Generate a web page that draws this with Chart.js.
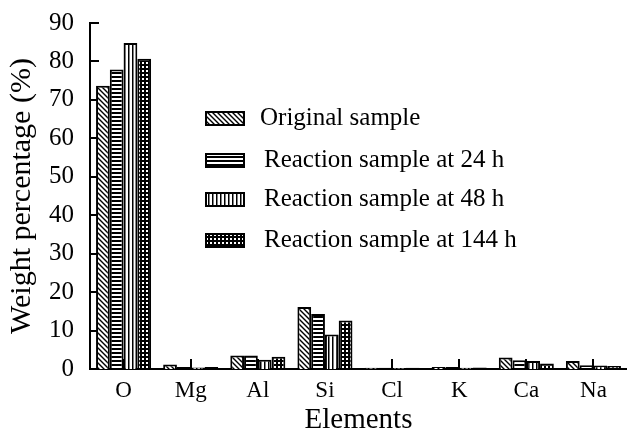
<!DOCTYPE html>
<html>
<head>
<meta charset="utf-8">
<script src="https://cdn.jsdelivr.net/npm/chart.js@4"></script>
<style>
  html, body { margin: 0; padding: 0; background: #fff; }
  #wrap { width: 627px; height: 432px; position: relative; }
</style>
</head>
<body>
<div id="wrap"><canvas id="chart" width="627" height="432"></canvas></div>
<script>
const elements = ['O', 'Mg', 'Al', 'Si', 'Cl', 'K', 'Ca', 'Na'];
const seriesNames = ['Original sample', 'Reaction sample at 24 h', 'Reaction sample at 48 h', 'Reaction sample at 144 h'];
const original = [73.7, 1.2, 3.5, 16.1, 0.3, 0.5, 3.0, 2.1];
const at24h = [77.9, 0.5, 3.5, 14.3, 0.3, 0.5, 2.3, 1.0];
const at48h = [84.8, 0.4, 2.4, 9.0, 0.2, 0.3, 2.1, 0.9];
const at144h = [80.7, 0.5, 3.2, 12.6, 0.3, 0.4, 1.4, 0.8];
const yTicks = [0, 10, 20, 30, 40, 50, 60, 70, 80, 90];

const FONT = "'Liberation Serif', 'Times New Roman', serif";

// hatch fills, drawn on small tiles
function makePattern(kind) {
  const c = document.createElement('canvas');
  const s = kind === 'diag' ? 5 : 4;
  c.width = s; c.height = s;
  const g = c.getContext('2d');
  g.fillStyle = '#fff';
  g.fillRect(0, 0, s, s);
  g.strokeStyle = '#000';
  g.fillStyle = '#000';
  if (kind === 'diag') {
    g.lineWidth = 1.4;
    g.beginPath();
    g.moveTo(-1, -1); g.lineTo(s + 1, s + 1);
    g.moveTo(-1, s - 1); g.lineTo(1, s + 1);
    g.moveTo(s - 1, -1); g.lineTo(s + 1, 1);
    g.stroke();
  } else if (kind === 'horiz') {
    g.fillRect(0, 0, s, 2);
  } else if (kind === 'vert') {
    g.fillRect(0, 0, 1.5, s);
  } else {
    g.fillRect(0, 0, s, 2);
    g.fillRect(0, 0, 2, s);
  }
  return document.getElementById('chart').getContext('2d').createPattern(c, 'repeat');
}

const fills = [makePattern('diag'), makePattern('horiz'), makePattern('vert'), makePattern('grid')];
const values = [original, at24h, at48h, at144h];

// inward tick marks on both axes (drawn under the bars)
const innerTicks = {
  id: 'innerTicks',
  beforeDatasetsDraw(chart) {
    const { ctx, chartArea, scales } = chart;
    ctx.save();
    ctx.strokeStyle = '#000';
    ctx.lineWidth = 2;
    ctx.beginPath();
    yTicks.forEach(v => {
      const y = Math.round(scales.y.getPixelForValue(v));
      ctx.moveTo(chartArea.left, y);
      ctx.lineTo(chartArea.left + 9, y);
    });
    elements.forEach((e, i) => {
      const x = Math.round(scales.x.getPixelForValue(i));
      ctx.moveTo(x, chartArea.bottom);
      ctx.lineTo(x, chartArea.bottom - 10);
    });
    ctx.stroke();
    ctx.restore();
  }
};

// legend inside the plot
const boxLegend = {
  id: 'boxLegend',
  afterDraw(chart) {
    const ctx = chart.ctx;
    const rowsY = [118, 160, 199, 240];
    const textX = [260, 264, 264, 264];
    ctx.save();
    ctx.font = '25px ' + FONT;
    ctx.textBaseline = 'middle';
    chart.data.datasets.forEach((ds, i) => {
      const y = rowsY[i];
      ctx.fillStyle = ds.backgroundColor;
      ctx.fillRect(206, y - 6, 38, 13);
      ctx.strokeStyle = '#000';
      ctx.lineWidth = 2;
      ctx.strokeRect(206, y - 6, 38, 13);
      ctx.fillStyle = '#000';
      ctx.fillText(ds.label, textX[i], y);
    });
    ctx.restore();
  }
};

new Chart(document.getElementById('chart'), {
  type: 'bar',
  data: {
    labels: elements,
    datasets: seriesNames.map((name, i) => ({
      label: name,
      data: values[i],
      backgroundColor: fills[i],
      borderColor: '#000',
      borderWidth: 2,
      borderSkipped: 'bottom',
      categoryPercentage: 0.82,
      barPercentage: 1.0
    }))
  },
  options: {
    responsive: false,
    animation: false,
    layout: { padding: { top: 20, right: 0, left: 0, bottom: 0 } },
    plugins: {
      legend: { display: false },
      tooltip: { enabled: false }
    },
    scales: {
      x: {
        grid: { display: false },
        border: { color: '#000', width: 2 },
        ticks: { color: '#000', font: { family: FONT, size: 23 }, padding: 0 },
        title: { display: true, text: 'Elements', color: '#000', font: { family: FONT, size: 29, lineHeight: 0.8 }, padding: { top: 0, bottom: 0 } },
        afterFit(scale) { scale.height = 63; }
      },
      y: {
        min: 0,
        max: 90,
        grid: { display: false },
        border: { color: '#000', width: 2 },
        ticks: { stepSize: 10, color: '#000', font: { family: FONT, size: 25 }, padding: 8 },
        title: { display: true, text: 'Weight percentage (%)', color: '#000', font: { family: FONT, size: 30, lineHeight: 1.45 }, padding: { top: 0, bottom: 0 } },
        afterFit(scale) { scale.width = 90; }
      }
    }
  },
  plugins: [innerTicks, boxLegend]
});
</script>
</body>
</html>
